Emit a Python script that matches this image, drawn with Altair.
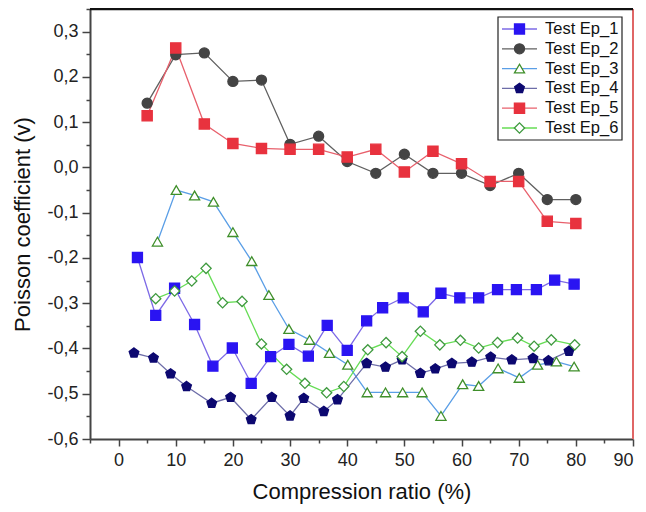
import altair as alt
import pandas as pd

names = ["Test Ep_1", "Test Ep_2", "Test Ep_3", "Test Ep_4", "Test Ep_5", "Test Ep_6"]

ep1_x = [3.3, 6.5, 9.8, 13.3, 16.5, 19.9, 23.2, 26.6, 29.8, 33.2, 36.5, 40.0,
         43.4, 46.2, 49.8, 53.3, 56.4, 59.7, 63.0, 66.3, 69.6, 73.1, 76.3, 79.7]
ep1_y = [-0.199, -0.327, -0.267, -0.347, -0.439, -0.399, -0.477, -0.418, -0.391, -0.417, -0.349, -0.404,
         -0.339, -0.310, -0.288, -0.319, -0.278, -0.288, -0.288, -0.270, -0.270, -0.270, -0.249, -0.258]

ep2_x = [5, 10, 15, 20, 25, 30, 35, 40, 45, 50, 55, 60, 65, 70, 75, 80]
ep2_y = [0.142, 0.249, 0.253, 0.190, 0.193, 0.051, 0.069, 0.013, -0.013, 0.029, -0.013, -0.013,
         -0.040, -0.013, -0.071, -0.071]

ep3_x = [6.8, 10.1, 13.3, 16.6, 20.0, 23.3, 26.3, 29.8, 33.4, 36.9, 40.1, 43.5,
         46.7, 49.7, 53.1, 56.4, 60.2, 63.0, 66.4, 70.1, 73.3, 76.6, 79.7]
ep3_y = [-0.164, -0.050, -0.062, -0.076, -0.143, -0.207, -0.282, -0.357, -0.381, -0.410, -0.436, -0.497,
         -0.497, -0.497, -0.497, -0.549, -0.479, -0.483, -0.444, -0.465, -0.436, -0.429, -0.440]

ep4_x = [2.7, 6.1, 9.1, 11.9, 16.3, 19.6, 23.2, 26.8, 30.0, 32.4, 35.9, 38.3,
         43.4, 46.7, 49.6, 52.8, 55.4, 58.3, 61.8, 65.1, 68.8, 72.5, 75.2, 78.8]
ep4_y = [-0.410, -0.421, -0.456, -0.484, -0.521, -0.508, -0.557, -0.508, -0.549, -0.510, -0.539, -0.513,
         -0.433, -0.441, -0.425, -0.455, -0.445, -0.433, -0.430, -0.419, -0.425, -0.422, -0.427, -0.406]

ep5_x = [5, 10, 15, 20, 25, 30, 35, 40, 45, 50, 55, 60, 65, 70, 75, 80]
ep5_y = [0.114, 0.264, 0.096, 0.053, 0.042, 0.040, 0.040, 0.023, 0.040, -0.010, 0.036, 0.008,
         -0.031, -0.031, -0.119, -0.124]

ep6_x = [6.5, 9.8, 12.8, 15.3, 18.2, 21.6, 25.0, 29.4, 32.6, 36.4, 39.4, 43.6,
         46.8, 49.6, 52.8, 56.2, 59.8, 63.0, 66.3, 69.8, 72.7, 75.7, 79.8]
ep6_y = [-0.290, -0.273, -0.251, -0.223, -0.299, -0.296, -0.390, -0.446, -0.477, -0.498, -0.484, -0.403,
         -0.387, -0.418, -0.362, -0.392, -0.382, -0.399, -0.387, -0.377, -0.395, -0.381, -0.392]

x_major = [0, 10, 20, 30, 40, 50, 60, 70, 80, 90]
x_minor = [-5, 5, 15, 25, 35, 45, 55, 65, 75, 85]
y_major = [-0.6, -0.5, -0.4, -0.3, -0.2, -0.1, 0.0, 0.1, 0.2, 0.3]
y_minor = [-0.55, -0.45, -0.35, -0.25, -0.15, -0.05, 0.05, 0.15, 0.25, 0.35]

line_colors = ["#7d6ae6", "#606060", "#5a9ee6", "#6d6da8", "#e8606c", "#66dd55"]
marker_fill = ["#2a14f2", "#444444", "#ffffff", "#0c0870", "#e8323e", "#ffffff"]
marker_stroke = ["#2a14f2", "#444444", "#3f8f2a", "#0c0870", "#e8323e", "#3f9a3f"]
pentagon = "M0,-1L0.951,-0.309L0.588,0.809L-0.588,0.809L-0.951,-0.309Z"
marker_shapes = ["square", "circle", "triangle-up", pentagon, "square", "diamond"]
marker_sizes = [100, 105, 110, 150, 100, 150]

rows = []
for name, xs, ys in zip(names, [ep1_x, ep2_x, ep3_x, ep4_x, ep5_x, ep6_x],
                        [ep1_y, ep2_y, ep3_y, ep4_y, ep5_y, ep6_y]):
    for xv, yv in zip(xs, ys):
        rows.append({"series": name, "x": xv, "y": yv})
df = pd.DataFrame(rows)
legend_df = pd.DataFrame({"series": names})

xscale = alt.Scale(domain=[-5, 90], nice=False, zero=False)
yscale = alt.Scale(domain=[-0.6, 0.35], nice=False, zero=False)
color_scale = alt.Scale(domain=names, range=line_colors)
fill_scale = alt.Scale(domain=names, range=marker_fill)
stroke_scale = alt.Scale(domain=names, range=marker_stroke)
shape_scale = alt.Scale(domain=names, range=marker_shapes)
size_scale = alt.Scale(domain=names, range=marker_sizes)

label_expr = "replace(replace(format(datum.value, '.1f'), '.', ','), '\u2212', '-')"

lines = alt.Chart(df).mark_line(strokeWidth=1.3).encode(
    x=alt.X("x:Q", scale=xscale,
            axis=alt.Axis(values=x_major, title="Compression ratio (%)", orient="bottom",
                          tickSize=7, labelPadding=5, titlePadding=12, format="d")),
    y=alt.Y("y:Q", scale=yscale,
            axis=alt.Axis(values=y_major, title="Poisson coefficient (v)", orient="left",
                          tickSize=8, labelPadding=4, titlePadding=12, labelExpr=label_expr)),
    color=alt.Color("series:N", scale=color_scale, legend=None),
)

points = alt.Chart(df).mark_point(strokeWidth=1.3, opacity=1).encode(
    x=alt.X("x:Q", scale=xscale, axis=None),
    y=alt.Y("y:Q", scale=yscale, axis=None),
    shape=alt.Shape("series:N", scale=shape_scale, legend=None),
    fill=alt.Fill("series:N", scale=fill_scale, legend=None),
    stroke=alt.Stroke("series:N", scale=stroke_scale, legend=None),
    size=alt.Size("series:N", scale=size_scale, legend=None),
)

red_rule = alt.Chart(pd.DataFrame({"x": [90]})).mark_rule(color="#e06666", strokeWidth=2).encode(
    x=alt.X("x:Q", scale=xscale,
            axis=alt.Axis(values=x_minor, labels=False, tickSize=4, domain=False,
                          title=None, orient="bottom")),
)

top_rule = alt.Chart(pd.DataFrame({"y": [0.35]})).mark_rule(color="#111111", strokeWidth=2.5).encode(
    y=alt.Y("y:Q", scale=yscale,
            axis=alt.Axis(values=y_minor, labels=False, tickSize=4, domain=False,
                          title=None, orient="left")),
)

leg_y = alt.Y("series:N", scale=alt.Scale(type="point", domain=names, range=[20, 119], padding=0),
              axis=None)

leg_box = alt.Chart(pd.DataFrame({"a": [0]})).mark_rect(
    fill="white", stroke="#222222", strokeWidth=1.2
).encode(x=alt.value(408), x2=alt.value(532), y=alt.value(8), y2=alt.value(131))

leg_lines = alt.Chart(legend_df).mark_rule(strokeWidth=1.3).encode(
    x=alt.value(412), x2=alt.value(447), y=leg_y,
    color=alt.Color("series:N", scale=color_scale, legend=None),
)

leg_points = alt.Chart(legend_df).mark_point(strokeWidth=1.3, opacity=1).encode(
    x=alt.value(429.5), y=leg_y,
    shape=alt.Shape("series:N", scale=shape_scale, legend=None),
    fill=alt.Fill("series:N", scale=fill_scale, legend=None),
    stroke=alt.Stroke("series:N", scale=stroke_scale, legend=None),
    size=alt.Size("series:N", scale=size_scale, legend=None),
)

leg_text = alt.Chart(legend_df).mark_text(
    align="left", baseline="middle", fontSize=16.5, font="Liberation Sans", color="#111111"
).encode(x=alt.value(455), y=leg_y, text="series:N")

chart = alt.layer(
    lines, points, red_rule, top_rule, leg_box, leg_lines, leg_points, leg_text
).resolve_axis(
    x="independent", y="independent"
).resolve_scale(
    y="independent"
).properties(
    width=543, height=430,
    autosize=alt.AutoSizeParams(type="none"),
    padding={"left": 82, "top": 1, "right": 5, "bottom": 72},
).configure_view(
    stroke=None
).configure_axis(
    labelFont="Liberation Sans", titleFont="Liberation Sans",
    labelFontSize=18, titleFontSize=22, titleFontWeight="normal",
    labelColor="#222222", titleColor="#111111",
    domainColor="#444444", domainWidth=2, tickColor="#444444", tickWidth=1.5,
    grid=False,
)

chart.save("out.html", embed_options={"renderer": "svg", "actions": False})
